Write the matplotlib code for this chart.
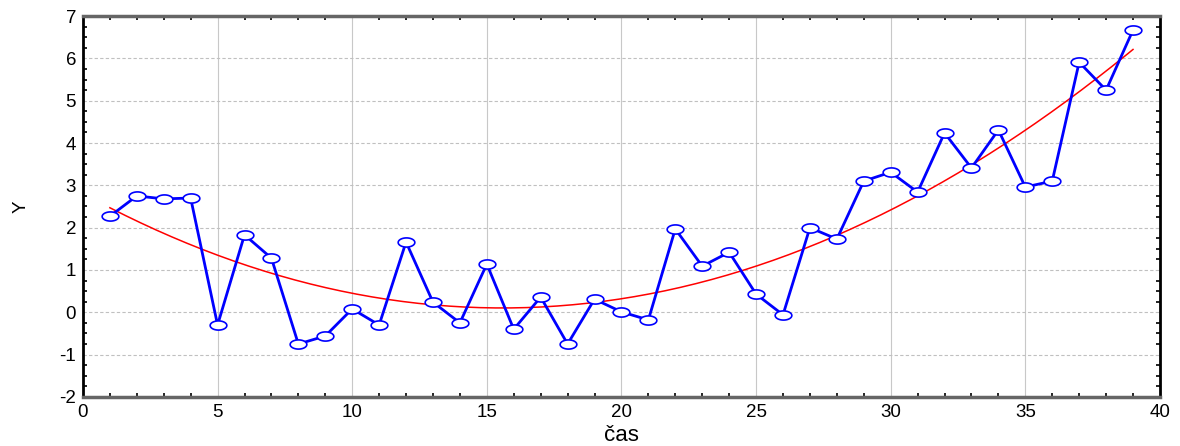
import numpy as np
import matplotlib.pyplot as plt
from matplotlib.path import Path
from matplotlib.ticker import MultipleLocator

plt.rcParams['font.family'] = ['Liberation Sans', 'DejaVu Sans']
plt.rcParams['axes.unicode_minus'] = False

cas = np.arange(1, 40)
y = [2.27, 2.75, 2.68, 2.70, -0.30, 1.83, 1.28, -0.75, -0.56, 0.08,
     -0.30, 1.66, 0.24, -0.25, 1.14, -0.40, 0.36, -0.75, 0.31, 0.01,
     -0.18, 1.97, 1.09, 1.42, 0.43, -0.06, 2.00, 1.73, 3.10, 3.31,
     2.84, 4.24, 3.41, 4.31, 2.96, 3.10, 5.91, 5.25, 6.67]
x_ticks = [0, 5, 10, 15, 20, 25, 30, 35, 40]
y_ticks = [-2, -1, 0, 1, 2, 3, 4, 5, 6, 7]

# kvadraticky trend (fit dat)
koef = np.polyfit(cas, y, 2)
t = np.linspace(1, 39, 200)
trend = np.polyval(koef, t)

# elipticky marker
uhel = np.linspace(0, 2 * np.pi, 60)
elipsa = Path(np.column_stack([np.cos(uhel), 0.55 * np.sin(uhel)]), closed=True)

fig = plt.figure(figsize=(11.8, 4.46), dpi=100)
ax = fig.add_axes([0.0703, 0.110, 0.9127, 0.854])

ax.plot(t, trend, color='red', linewidth=1.1, zorder=2)
ax.plot(cas, y, color='blue', linewidth=2.0, marker=elipsa, markersize=12,
        markerfacecolor='white', markeredgecolor='blue', markeredgewidth=1.2, zorder=3)

ax.set_xlim(0, 40)
ax.set_ylim(-2, 7)
ax.set_xticks(x_ticks)
ax.set_yticks(y_ticks)
ax.xaxis.set_minor_locator(MultipleLocator(1))
ax.yaxis.set_minor_locator(MultipleLocator(0.25))
ax.tick_params(which='both', direction='in', top=True, right=True, labelsize=13.5)
ax.tick_params(which='major', length=0, pad=5)
ax.tick_params(which='minor', length=3, width=1.2)

ax.grid(True, axis='x', color='#c8c8c8', linestyle='-', linewidth=0.8)
ax.grid(True, axis='y', color='#c0c0c0', linestyle=(0, (3, 2)), linewidth=0.8)

for s in ['left', 'right']:
    ax.spines[s].set_color('black')
    ax.spines[s].set_linewidth(2)
for s in ['top', 'bottom']:
    ax.spines[s].set_color('#666666')
    ax.spines[s].set_linewidth(2.5)

ax.set_xlabel('čas', fontsize=16, labelpad=3)
ax.set_ylabel('Y', fontsize=13.5, labelpad=21)

fig.savefig('out.png', dpi=100)
